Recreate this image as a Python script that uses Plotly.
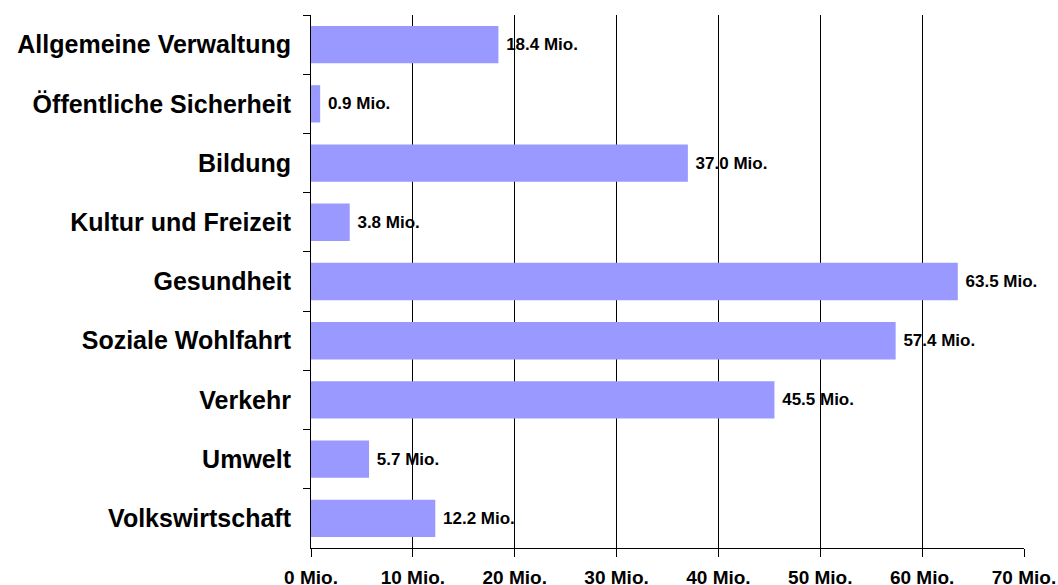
import plotly.graph_objects as go

# Expenditure by function, in millions
categories = [
    "Allgemeine Verwaltung",
    "Öffentliche Sicherheit",
    "Bildung",
    "Kultur und Freizeit",
    "Gesundheit",
    "Soziale Wohlfahrt",
    "Verkehr",
    "Umwelt",
    "Volkswirtschaft",
]
values = [18.4, 0.9, 37.0, 3.8, 63.5, 57.4, 45.5, 5.7, 12.2]
tick_values = [0, 10, 20, 30, 40, 50, 60, 70]
tick_labels = [f"{v} Mio." for v in tick_values]

FONT = "Liberation Sans, Arial, sans-serif"

fig = go.Figure(
    go.Bar(
        x=values,
        y=categories,
        orientation="h",
        marker=dict(color="#9999FF", line=dict(width=0)),
        width=0.63,
        text=[f"{v:.1f} Mio." for v in values],
        texttemplate=" %{text}",
        textposition="outside",
        textfont=dict(family=FONT, size=17, color="black", weight="bold"),
        cliponaxis=False,
    )
)

fig.update_layout(
    width=1058,
    height=585,
    margin=dict(l=311, r=34, t=15, b=37),
    paper_bgcolor="white",
    plot_bgcolor="white",
    showlegend=False,
    bargap=0.37,
    xaxis=dict(
        range=[0, 70],
        automargin=False,
        tickvals=tick_values,
        ticktext=tick_labels,
        showgrid=True,
        gridcolor="black",
        gridwidth=1,
        zeroline=False,
        showline=True,
        linecolor="black",
        linewidth=1,
        ticks="outside",
        ticklen=8,
        tickcolor="black",
        tickfont=dict(family=FONT, size=19, color="black", weight="bold"),
        ticklabelstandoff=4,
    ),
    yaxis=dict(
        autorange="reversed",
        automargin=False,
        showgrid=False,
        zeroline=False,
        showline=True,
        linecolor="black",
        linewidth=1,
        ticks="outside",
        tickson="boundaries",
        ticklen=7,
        tickcolor="black",
        tickfont=dict(family=FONT, size=25, color="black", weight="bold"),
        ticklabelstandoff=14,
    ),
)

fig.write_html("out.html")
